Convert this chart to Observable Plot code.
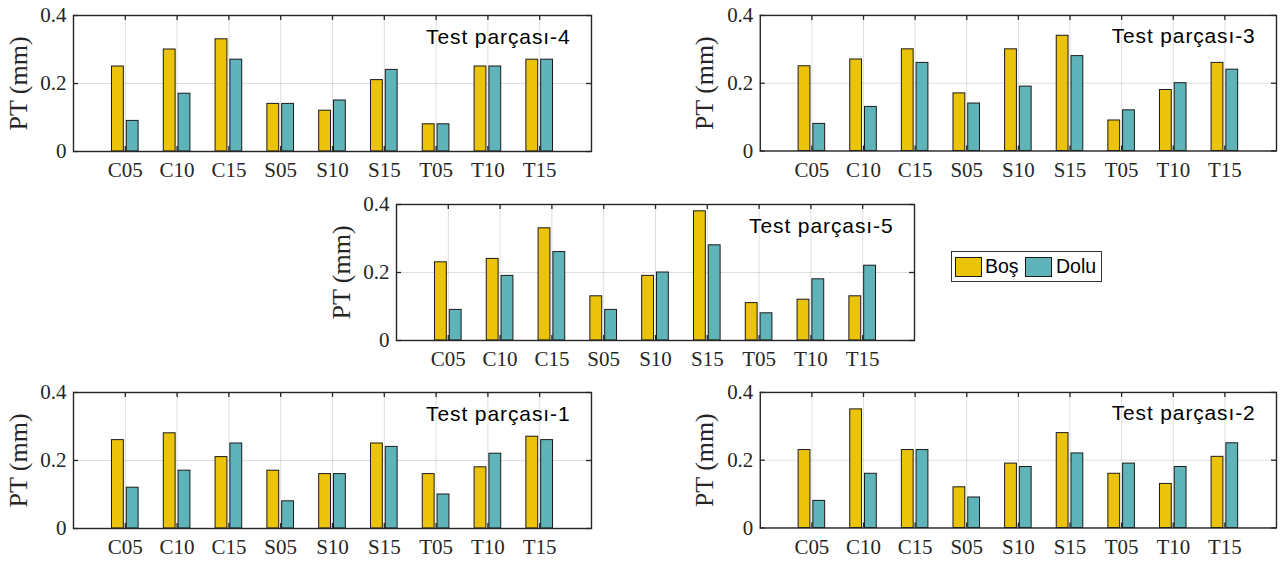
<!DOCTYPE html>
<html>
<head>
<meta charset="utf-8">
<script src="https://cdn.jsdelivr.net/npm/d3@7"></script>
<script src="https://cdn.jsdelivr.net/npm/@observablehq/plot@0.6"></script>
<style>
  html, body { margin: 0; padding: 0; background: #fff; }
  #root { position: relative; width: 1280px; height: 565px; overflow: hidden; background: #fff; }
  .panel { position: absolute; }
  .panel svg { overflow: visible; }
</style>
</head>
<body>
<div id="root"></div>
<script>
// ---------- data ----------
const categories = ["C05", "C10", "C15", "S05", "S10", "S15", "T05", "T10", "T15"];
const seriesNames = ["Boş", "Dolu"];
const seriesColors = ["#ECC30B", "#5FB4BA"];
const yTicks = [0, 0.2, 0.4];
const yTickLabels = ["0", "0.2", "0.4"];
const yLabel = "PT (mm)";

const test4Bos  = [0.25, 0.30, 0.33, 0.14, 0.12, 0.21, 0.08, 0.25, 0.27];
const test4Dolu = [0.09, 0.17, 0.27, 0.14, 0.15, 0.24, 0.08, 0.25, 0.27];

const test3Bos  = [0.25, 0.27, 0.30, 0.17, 0.30, 0.34, 0.09, 0.18, 0.26];
const test3Dolu = [0.08, 0.13, 0.26, 0.14, 0.19, 0.28, 0.12, 0.20, 0.24];

const test5Bos  = [0.23, 0.24, 0.33, 0.13, 0.19, 0.38, 0.11, 0.12, 0.13];
const test5Dolu = [0.09, 0.19, 0.26, 0.09, 0.20, 0.28, 0.08, 0.18, 0.22];

const test1Bos  = [0.26, 0.28, 0.21, 0.17, 0.16, 0.25, 0.16, 0.18, 0.27];
const test1Dolu = [0.12, 0.17, 0.25, 0.08, 0.16, 0.24, 0.10, 0.22, 0.26];

const test2Bos  = [0.23, 0.35, 0.23, 0.12, 0.19, 0.28, 0.16, 0.13, 0.21];
const test2Dolu = [0.08, 0.16, 0.23, 0.09, 0.18, 0.22, 0.19, 0.18, 0.25];

// ---------- layout ----------
const FRAME_W = 518, FRAME_H = 136;
const M = {left: 73, right: 4, top: 15, bottom: 36};
const panels = [
  {title: "Test parçası-4", bos: test4Bos, dolu: test4Dolu, left: 0,   top: 0},
  {title: "Test parçası-3", bos: test3Bos, dolu: test3Dolu, left: 687, top: 0},
  {title: "Test parçası-5", bos: test5Bos, dolu: test5Dolu, left: 323, top: 189},
  {title: "Test parçası-1", bos: test1Bos, dolu: test1Dolu, left: 0,   top: 377},
  {title: "Test parçası-2", bos: test2Bos, dolu: test2Dolu, left: 687, top: 377}
];

const serifFont = "'Liberation Serif', 'Times New Roman', serif";
const sansFont = "'Liberation Sans', Arial, Helvetica, sans-serif";
const axisColor = "#262626";

// MATLAB-style grouped bar geometry (2 series)
const groupWidth = 2 / 3.5;
const barWidth = 0.8 * groupWidth / 2;
const offsetOf = s => (s - 0.5) * groupWidth / 2;

function makePanel(p) {
  const rows = [];
  [p.bos, p.dolu].forEach((vals, s) => {
    vals.forEach((v, i) => rows.push({cat: categories[i], pos: i + 1, s, series: seriesNames[s], value: v}));
  });
  const xt = categories.map((c, i) => i + 1);
  const tick = 5;
  const svg = Plot.plot({
    width: M.left + FRAME_W + M.right,
    height: M.top + FRAME_H + M.bottom,
    marginLeft: M.left, marginRight: M.right, marginTop: M.top, marginBottom: M.bottom,
    style: {fontFamily: serifFont, fontSize: "21px", background: "transparent", color: axisColor},
    x: {type: "linear", domain: [0, 10], axis: null},
    y: {type: "linear", domain: [0, 0.4], axis: null},
    color: {domain: seriesNames, range: seriesColors},
    marks: [
      Plot.gridX(xt, {x: d => d, stroke: "#000", strokeOpacity: 0.13, strokeWidth: 1}),
      Plot.gridY(yTicks, {y: d => d, stroke: "#000", strokeOpacity: 0.13, strokeWidth: 1}),
      Plot.rect(rows, {
        x1: d => d.pos + offsetOf(d.s) - barWidth / 2,
        x2: d => d.pos + offsetOf(d.s) + barWidth / 2,
        y1: d => 0,
        y2: "value",
        fill: "series",
        stroke: "#1a1a1a",
        strokeWidth: 1
      }),
      // inward ticks on all sides
      Plot.ruleX(xt, {x: d => d, insetTop: FRAME_H - tick, stroke: axisColor, strokeWidth: 1.3}),
      Plot.ruleX(xt, {x: d => d, insetBottom: FRAME_H - tick, stroke: axisColor, strokeWidth: 1.3}),
      Plot.ruleY(yTicks, {y: d => d, insetRight: FRAME_W - tick, stroke: axisColor, strokeWidth: 1.3}),
      Plot.ruleY(yTicks, {y: d => d, insetLeft: FRAME_W - tick, stroke: axisColor, strokeWidth: 1.3}),
      Plot.frame({stroke: axisColor, strokeWidth: 1.4}),
      Plot.axisX({ticks: xt, anchor: "bottom", tickSize: 0, tickPadding: 11,
        tickFormat: d => categories[d - 1], fontSize: 21, color: axisColor, label: null}),
      Plot.axisY({ticks: yTicks, anchor: "left", tickSize: 0, tickPadding: 7,
        tickFormat: d => yTickLabels[yTicks.indexOf(d)], fontSize: 21, color: axisColor, label: null}),
      Plot.text([yLabel], {frameAnchor: "left", rotate: -90, dx: -47, textAnchor: "middle",
        lineAnchor: "bottom", fontSize: 26, fontFamily: serifFont, fill: axisColor}),
      Plot.text([p.title], {frameAnchor: "top-right", dx: -21, dy: 28, textAnchor: "end",
        lineAnchor: "bottom", fontSize: 21, fontFamily: sansFont, fill: "#000"})
    ]
  });
  d3.select(svg).selectAll("text").filter(function() { return this.textContent === p.title; })
    .attr("letter-spacing", "0.9px");
  return svg;
}

const root = document.getElementById("root");
panels.forEach(p => {
  const div = document.createElement("div");
  div.className = "panel";
  div.style.left = p.left + "px";
  div.style.top = p.top + "px";
  div.appendChild(makePanel(p));
  root.appendChild(div);
});

// ---------- legend ----------
const legend = document.createElement("div");
legend.style.cssText = "position:absolute;left:951px;top:251px;width:151px;height:31px;box-sizing:border-box;border:1.3px solid #333;background:#fff;font-family:" + sansFont + ";font-size:19.5px;color:#000;";
const legendItems = [{sw: 3, tx: 33}, {sw: 73, tx: 104}];
seriesNames.forEach((name, i) => {
  const sw = document.createElement("div");
  sw.style.cssText = `position:absolute;left:${legendItems[i].sw}px;top:5px;width:27px;height:20px;box-sizing:border-box;border:1px solid #1a1a1a;background:${seriesColors[i]};`;
  const tx = document.createElement("div");
  tx.style.cssText = `position:absolute;left:${legendItems[i].tx}px;top:3px;line-height:22px;white-space:nowrap;`;
  tx.textContent = name;
  legend.appendChild(sw);
  legend.appendChild(tx);
});
root.appendChild(legend);
</script>
</body>
</html>
